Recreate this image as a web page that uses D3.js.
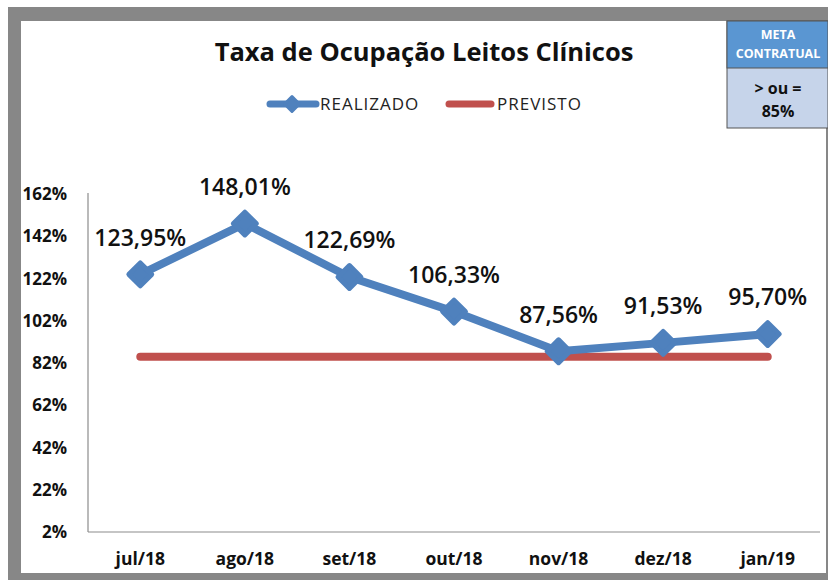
<!DOCTYPE html>
<html>
<head>
<meta charset="utf-8">
<script src="https://cdn.jsdelivr.net/npm/d3@7.9.0/dist/d3.min.js"></script>
<style>
  html, body { margin: 0; padding: 0; background: #fff; }
  svg { display: block; font-family: 'Open Sans', 'DejaVu Sans', sans-serif; }
</style>
</head>
<body>
<svg id="chart" width="828" height="580"></svg>
<script>
const months = ['jul/18', 'ago/18', 'set/18', 'out/18', 'nov/18', 'dez/18', 'jan/19'];
const realizado = [123.95, 148.01, 122.69, 106.33, 87.56, 91.53, 95.70];
const previsto = [85, 85, 85, 85, 85, 85, 85];
const yTicks = [2, 22, 42, 62, 82, 102, 122, 142, 162];

const blue = '#4f81bd';
const red = '#c0504d';

const svg = d3.select('#chart');

// outer frame
svg.append('rect').attr('x', 8).attr('y', 7).attr('width', 820).attr('height', 573).attr('fill', '#878787');
svg.append('rect').attr('x', 21).attr('y', 21).attr('width', 805).attr('height', 552).attr('fill', '#fff');

const plotLeft = 88, plotRight = 820, plotTop = 194, plotBottom = 532;

const x = d3.scalePoint().domain(months).range([plotLeft, plotRight]).padding(0.5);
const y = d3.scaleLinear().domain([2, 162]).range([plotBottom, plotTop]);

// axes lines
svg.append('line').attr('x1', plotLeft).attr('x2', plotLeft).attr('y1', plotTop - 1).attr('y2', plotBottom)
  .attr('stroke', '#8c8c8c').attr('stroke-width', 1.2);
svg.append('line').attr('x1', plotLeft).attr('x2', plotRight).attr('y1', plotBottom).attr('y2', plotBottom)
  .attr('stroke', '#8c8c8c').attr('stroke-width', 1.2);

// y labels
svg.append('g').selectAll('text').data(yTicks).join('text')
  .attr('x', 67).attr('y', (d) => y(d)).attr('dy', '0.36em')
  .attr('text-anchor', 'end')
  .attr('font-size', 17).attr('font-weight', 'bold').attr('fill', '#111')
  .text((d) => d + '%');

// x labels
svg.append('g').selectAll('text').data(months).join('text')
  .attr('x', (d) => x(d)).attr('y', 565)
  .attr('text-anchor', 'middle')
  .attr('font-size', 17.5).attr('font-weight', 'bold').attr('fill', '#111')
  .text((d) => d);

// previsto line
const line = d3.line().x((d) => x(d.m)).y((d) => y(d.v));
svg.append('path')
  .attr('d', line(months.map((m, i) => ({ m, v: previsto[i] }))))
  .attr('fill', 'none').attr('stroke', red).attr('stroke-width', 8)
  .attr('stroke-linecap', 'round');

// realizado line
const pts = months.map((m, i) => ({ m, v: realizado[i] }));
svg.append('path')
  .attr('d', line(pts))
  .attr('fill', 'none').attr('stroke', blue).attr('stroke-width', 8)
  .attr('stroke-linejoin', 'round').attr('stroke-linecap', 'round');

svg.append('g').selectAll('path').data(pts).join('path')
  .attr('transform', (d) => `translate(${x(d.m)},${y(d.v)}) rotate(45)`)
  .attr('d', d3.symbol().type(d3.symbolSquare).size(260))
  .attr('fill', blue).attr('stroke', blue).attr('stroke-width', 5)
  .attr('stroke-linejoin', 'round');

// value labels
svg.append('g').selectAll('text').data(pts).join('text')
  .attr('x', (d) => x(d.m)).attr('y', (d) => y(d.v) - 37).attr('dy', '0.36em')
  .attr('text-anchor', 'middle')
  .attr('font-size', 23).attr('font-weight', 600).attr('fill', '#111')
  .text((d) => d.v.toFixed(2).replace('.', ',') + '%');

// title
svg.append('text').attr('x', 424).attr('y', 52).attr('dy', '0.36em')
  .attr('text-anchor', 'middle').attr('font-size', 25.5).attr('font-weight', 'bold').attr('fill', '#111')
  .text('Taxa de Ocupação Leitos Clínicos');

// legend
const lg = svg.append('g');
lg.append('line').attr('x1', 270).attr('x2', 316).attr('y1', 104).attr('y2', 104)
  .attr('stroke', blue).attr('stroke-width', 7).attr('stroke-linecap', 'round');
lg.append('path').attr('transform', 'translate(292,104) rotate(45)')
  .attr('d', d3.symbol().type(d3.symbolSquare).size(110))
  .attr('fill', blue).attr('stroke', blue).attr('stroke-width', 3).attr('stroke-linejoin', 'round');
lg.append('text').attr('x', 320).attr('y', 104).attr('dy', '0.36em')
  .attr('font-size', 17).attr('letter-spacing', 1).attr('fill', '#222').text('REALIZADO');
lg.append('line').attr('x1', 449).attr('x2', 491).attr('y1', 104).attr('y2', 104)
  .attr('stroke', red).attr('stroke-width', 7).attr('stroke-linecap', 'round');
lg.append('text').attr('x', 497).attr('y', 104).attr('dy', '0.36em')
  .attr('font-size', 17).attr('letter-spacing', 1).attr('fill', '#222').text('PREVISTO');

// meta box
const box = svg.append('g');
box.append('rect').attr('x', 727).attr('y', 21).attr('width', 101).attr('height', 107)
  .attr('fill', '#c6d4ea').attr('stroke', '#555').attr('stroke-width', 1);
box.append('rect').attr('x', 727).attr('y', 21).attr('width', 101).attr('height', 47)
  .attr('fill', '#5a96d2').attr('stroke', '#555').attr('stroke-width', 1);
box.append('text').attr('x', 778).attr('y', 34).attr('dy', '0.36em').attr('text-anchor', 'middle')
  .attr('font-size', 12.5).attr('font-weight', 'bold').attr('fill', '#fff').text('META');
box.append('text').attr('x', 778).attr('y', 53).attr('dy', '0.36em').attr('text-anchor', 'middle')
  .attr('font-size', 12.5).attr('font-weight', 'bold').attr('fill', '#fff').text('CONTRATUAL');
box.append('text').attr('x', 778).attr('y', 88).attr('dy', '0.36em').attr('text-anchor', 'middle')
  .attr('font-size', 16).attr('font-weight', 'bold').attr('fill', '#111').text('> ou =');
box.append('text').attr('x', 778).attr('y', 111).attr('dy', '0.36em').attr('text-anchor', 'middle')
  .attr('font-size', 16).attr('font-weight', 'bold').attr('fill', '#111').text('85%');
</script>
</body>
</html>
